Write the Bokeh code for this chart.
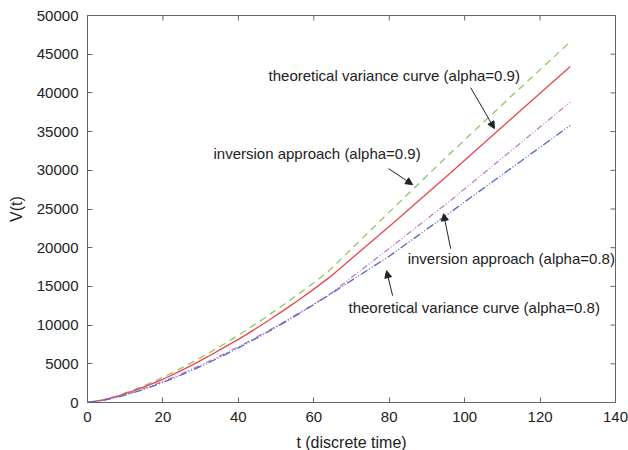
import math
from bokeh.plotting import figure
from bokeh.models import FixedTicker, Label, Arrow, NormalHead, Range1d, ColumnDataSource
from bokeh.embed import file_html
from bokeh.resources import INLINE

# ---- data ----
t = [0, 4, 8, 12, 16, 20, 24, 28, 32, 36, 40, 44, 48, 52, 56, 60, 64, 80, 96, 112, 128]
inv_09 = [0, 330, 885, 1575, 2370, 3250, 4210, 5240, 6330, 7490, 8700, 9960, 11270, 12620, 14020,
          15470, 17000, 24600, 32100, 39400, 46600]
theory_09 = [0, 300, 820, 1460, 2200, 3000, 3920, 4900, 5950, 7050, 8150, 9350, 10600, 11900, 13250,
             14650, 16100, 22750, 29550, 36500, 43400]
inv_08 = [0, 275, 740, 1320, 1990, 2720, 3520, 4380, 5280, 6220, 7200, 8220, 9280, 10380, 11520,
          12700, 13900, 19900, 26000, 32400, 38800]
theory_08 = [0, 256, 695, 1245, 1886, 2600, 3380, 4220, 5115, 6060, 7055, 8090, 9170, 10290, 11450,
             12650, 13880, 18900, 24500, 30150, 35800]

x_ticks = [0, 20, 40, 60, 80, 100, 120, 140]
y_ticks = [0, 5000, 10000, 15000, 20000, 25000, 30000, 35000, 40000, 45000, 50000]
x_max = 140
y_max = 50000

x_label = "t (discrete time)"
y_label = "V(t)"

annotations = [
    # text, text x, text y, arrow start x, y, arrow end x, y
    ("theoretical variance curve (alpha=0.9)", 48.0, 42240, 101.6, 40680, 107.9, 35390),
    ("inversion approach (alpha=0.9)", 33.4, 32160, 79.8, 30220, 86.2, 28150),
    ("inversion approach (alpha=0.8)", 84.9, 18580, 96.3, 19870, 94.4, 24400),
    ("theoretical variance curve (alpha=0.8)", 69.2, 12240, 80.9, 13800, 79.3, 17030),
]

FONT = "Liberation Sans"
TEXT = "#222222"
AXIS = "#666666"

src = ColumnDataSource(dict(t=t, inv_09=inv_09, theory_09=theory_09, inv_08=inv_08, theory_08=theory_08))

p = figure(frame_width=528, frame_height=387, output_backend="svg", toolbar_location=None,
           x_range=Range1d(0, x_max), y_range=Range1d(0, y_max),
           min_border_left=87, min_border_right=13, min_border_top=15, min_border_bottom=48)
p.background_fill_color = "white"
p.border_fill_color = "white"
p.outline_line_color = AXIS
p.grid.visible = False

p.line("t", "inv_09", source=src, line_color="#8cc865", line_width=1.3, line_dash="7 5")
p.line("t", "theory_09", source=src, line_color="#e8474c", line_width=1.3)
p.line("t", "inv_08", source=src, line_color="#c47ac8", line_width=1.3, line_dash="6 2 1 2 1 2")
p.line("t", "theory_08", source=src, line_color="#5565c0", line_width=1.3, line_dash="8 2 1 2 1 2")

for ax, ticks in ((p.xaxis[0], x_ticks), (p.yaxis[0], y_ticks)):
    ax.ticker = FixedTicker(ticks=ticks)
    ax.axis_line_color = AXIS
    ax.major_tick_line_color = AXIS
    ax.major_tick_in = 5
    ax.major_tick_out = 0
    ax.minor_tick_line_color = None
    ax.major_label_text_font = FONT
    ax.major_label_text_color = TEXT
    ax.major_label_text_font_size = "15px"
    ax.major_label_standoff = 9
    ax.axis_label_text_font = FONT
    ax.axis_label_text_font_size = "16px"
    ax.axis_label_text_font_style = "normal"
    ax.axis_label_text_color = TEXT
    ax.axis_label_standoff = 9
p.xaxis[0].axis_label = x_label
p.yaxis[0].axis_label = y_label

# mirrored inward ticks on the top and right edges (half of each dash is clipped by the frame)
p.scatter(x=x_ticks, y=[y_max] * len(x_ticks), marker="dash", size=10, angle=math.pi / 2,
          line_color=AXIS, line_width=1)
p.scatter(x=[x_max] * len(y_ticks), y=y_ticks, marker="dash", size=10,
          line_color=AXIS, line_width=1)

for txt, tx, ty, xs, ys, xe, ye in annotations:
    p.add_layout(Label(x=tx, y=ty, text=txt, text_font=FONT, text_font_size="15px",
                       text_color=TEXT, text_align="left", text_baseline="middle"))
    p.add_layout(Arrow(x_start=xs, y_start=ys, x_end=xe, y_end=ye, line_color="#222222", line_width=1,
                       end=NormalHead(size=7, fill_color="#222222", line_color="#222222")))

open("out.html", "w").write(file_html(p, INLINE))
